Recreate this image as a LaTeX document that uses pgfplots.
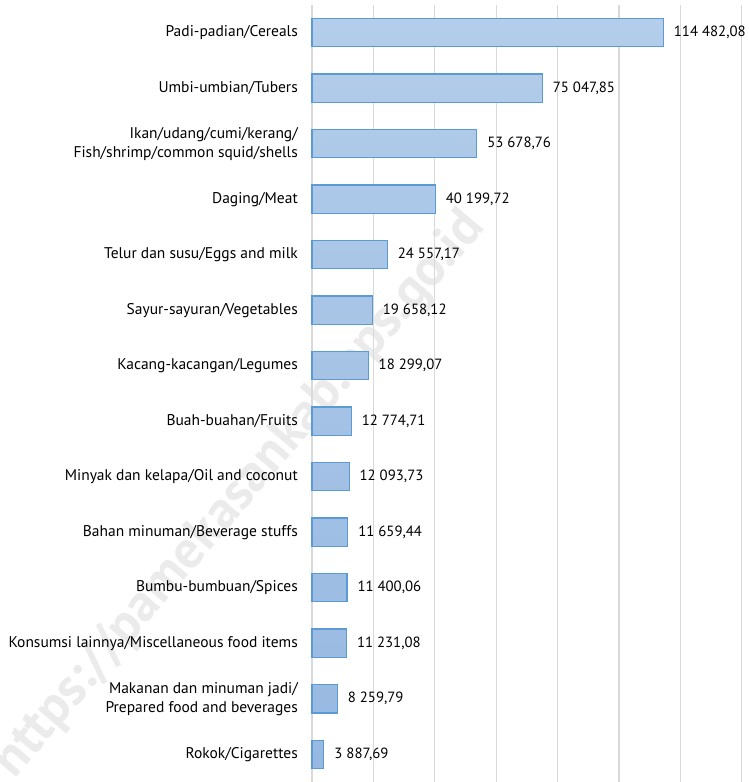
\documentclass[border=0pt]{standalone}
\usepackage{pgfplots}
\pgfplotsset{compat=1.18}
\usepackage{fontspec}
\setmainfont{PT Sans}
\definecolor{barfill1}{HTML}{B3CDEA}
\definecolor{barfill2}{HTML}{97B8E1}
\definecolor{barline}{HTML}{5B9BD5}
\definecolor{gridc}{HTML}{D9D9D9}
\begin{document}
\begin{tikzpicture}
\fontsize{15.5pt}{19pt}\selectfont
% watermark
\node[rotate=49.5, text=black, opacity=0.08, font=\bfseries\fontsize{53pt}{53pt}\selectfont] at (-72pt,287pt) {https://pamekasankab.bps.go.id};
\begin{axis}[
  scale only axis,
  width=429.7pt, height=777pt,
  at={(0,0)}, anchor=south west,
  xmin=0, xmax=140000,
  ymin=-0.5, ymax=13.5,
  xtick={0,20000,...,140000},
  xticklabels={},
  xmajorgrids,
  grid style={gridc, line width=1.2pt},
  major tick length=0pt,
  axis line style={draw=none},
  ytick={0,...,13},
  yticklabels={
    {Rokok/Cigarettes},
    {Makanan dan minuman jadi/\\Prepared food and beverages},
    {Konsumsi lainnya/Miscellaneous food items},
    {Bumbu-bumbuan/Spices},
    {Bahan minuman/Beverage stuffs},
    {Minyak dan kelapa/Oil and coconut},
    {Buah-buahan/Fruits},
    {Kacang-kacangan/Legumes},
    {Sayur-sayuran/Vegetables},
    {Telur dan susu/Eggs and milk},
    {Daging/Meat},
    {Ikan/udang/cumi/kerang/\\Fish/shrimp/common squid/shells},
    {Umbi-umbian/Tubers},
    {Padi-padian/Cereals}},
  yticklabel style={align=right, inner sep=0pt, xshift=-14pt, font=\fontsize{15.5pt}{19pt}\selectfont},
  xbar, bar width=28.4pt, bar shift=0pt,
  point meta=explicit symbolic,
  nodes near coords,
  nodes near coords style={anchor=west, inner sep=0pt, xshift=10pt, text=black, font=\fontsize{14.8pt}{18pt}\selectfont},
  clip=false,
]
\addplot[draw=barline, line width=1.1pt, top color=barfill1, bottom color=barfill2] coordinates {
  (3887.69,0) [3 887,69]
  (8259.79,1) [8 259,79]
  (11231.08,2) [11 231,08]
  (11400.06,3) [11 400,06]
  (11659.44,4) [11 659,44]
  (12093.73,5) [12 093,73]
  (12774.71,6) [12 774,71]
  (18299.07,7) [18 299,07]
  (19658.12,8) [19 658,12]
  (24557.17,9) [24 557,17]
  (40199.72,10) [40 199,72]
  (53678.76,11) [53 678,76]
  (75047.85,12) [75 047,85]
  (114482.08,13) [114 482,08]
};
\end{axis}
\pgfresetboundingbox
\path[use as bounding box] (-312pt,0pt) rectangle (436pt,782pt);
\end{tikzpicture}
\end{document}
